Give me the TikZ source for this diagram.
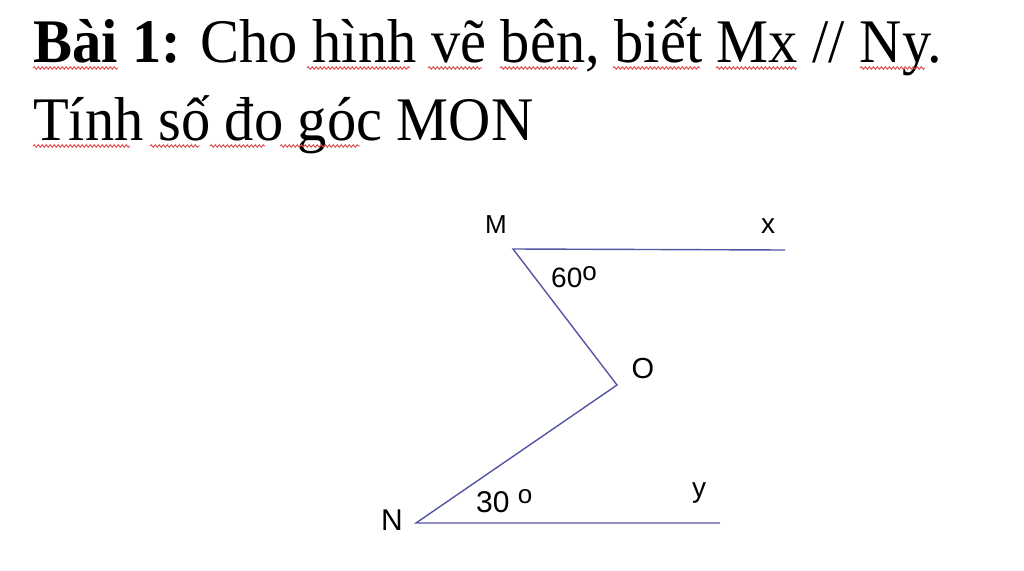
\documentclass[tikz,border=0pt]{standalone}
\usepackage{fontspec}
\setmainfont{Liberation Serif}
\newfontfamily\titlefont[FakeStretch=0.943]{Liberation Serif}
\newfontfamily\labfont{Liberation Sans}
\usetikzlibrary{decorations.pathmorphing}
\newcommand{\degring}[1]{\raisebox{#1}{\fontsize{26}{26}\selectfont o}}
\tikzset{
  titletext/.style={anchor=base west, inner sep=0pt, font=\titlefont\fontsize{62}{62}\selectfont},
  geo/.style={draw={rgb,255:red,85;green,85;blue,165}, line width=1.4pt},
  lab/.style={inner sep=0pt, anchor=base, font=\labfont\fontsize{28}{28}\selectfont},
  spell/.style={draw={rgb,255:red,225;green,70;blue,70}, line width=0.9pt, decorate, decoration={snake, amplitude=1.3pt, segment length=4pt}}
}
\begin{document}
\begin{tikzpicture}[x=1pt,y=-1pt]
\useasboundingbox[fill=white] (0,0) rectangle (1024,570);
\node[titletext] (t1) at (33,62) {\textbf{Bài 1:} Cho hình vẽ bên, biết Mx // Ny.};
\node[titletext] (t2) at (33,140) {Tính số đo góc MON};
% spell-check marks
\draw[spell] (33,68) -- (118,68);
\draw[spell] (307,68) -- (410,68);
\draw[spell] (428,68) -- (482,68);
\draw[spell] (500,68) -- (578,68);
\draw[spell] (613,68) -- (700,68);
\draw[spell] (716,68) -- (797,68);
\draw[spell] (860,68) -- (925,68);
\draw[spell] (33,146) -- (130,146);
\draw[spell] (150,146) -- (200,146);
\draw[spell] (210,146) -- (265,146);
\draw[spell] (280,146) -- (360,146);
% figure
\coordinate (M) at (513,249);
\coordinate (X) at (785,250);
\coordinate (O) at (617,385);
\coordinate (N) at (416,523);
\coordinate (Y) at (720,523);
\draw[geo] (X) -- (M) -- (O) -- (N) -- (Y);
\node[lab, font=\labfont\fontsize{26}{26}\selectfont] (lM) at (496,233) {M};
\node[lab] (lX) at (768,233) {x};
\node[lab, anchor=base west] (l60) at (551,287) {60\degring{7pt}};
\node[lab, font=\labfont\fontsize{29}{29}\selectfont] (lO) at (643,378) {O};
\node[lab, anchor=base west, font=\labfont\fontsize{30}{30}\selectfont] (l30) at (476,512) {30 \degring{9pt}};
\node[lab] (lY) at (699,497) {y};
\node[lab, font=\labfont\fontsize{30}{30}\selectfont] (lN) at (392,530) {N};
\end{tikzpicture}
\end{document}
